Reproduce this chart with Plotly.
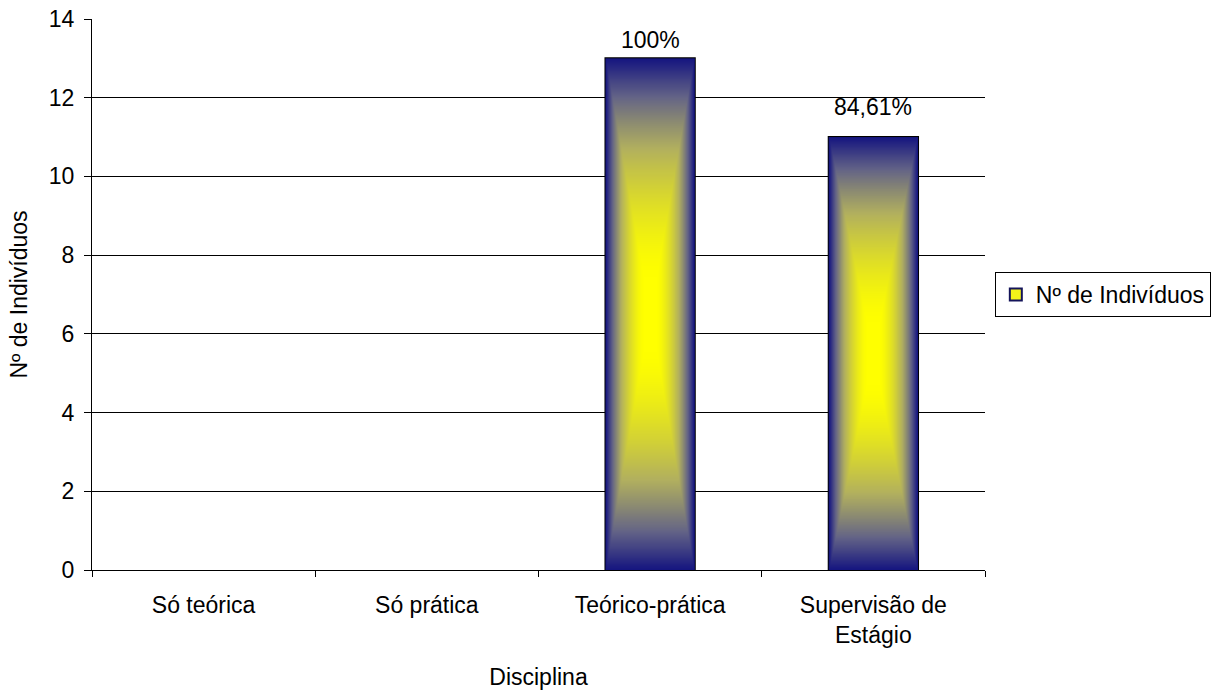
import base64
import struct
import zlib

import numpy as np
import plotly.graph_objects as go

# ---- data -------------------------------------------------------------
categories = ["Só teórica", "Só prática", "Teórico-prática", "Supervisão de<br>Estágio"]
individuos = [0, 0, 13, 11]
percent_labels = ["", "", "100%", "84,61%"]
series_name = "Nº de Indivíduos"

# ---- styling ----------------------------------------------------------
FONT = "Liberation Sans, Arial, sans-serif"
FONT_SIZE = 23
BAR_WIDTH = 0.4
BAR_EDGE = "#000000"
# colour stops of the centre-out fill, along the eased distance from the centre
GRADIENT_STOPS = [
    (0.00, (255, 255, 0)),
    (0.45, (178, 176, 95)),
    (0.75, (100, 100, 135)),
    (1.00, (22, 22, 128)),
]
label_shift = {"Teórico-prática": 3, "Supervisão de<br>Estágio": 15}


def png_data_uri(rgb):
    """Encode an HxWx3 uint8 array as a PNG data URI."""
    h, w, _ = rgb.shape
    raw = b"".join(b"\x00" + rgb[r].tobytes() for r in range(h))

    def chunk(tag, data):
        body = tag + data
        return struct.pack(">I", len(data)) + body + struct.pack(">I", zlib.crc32(body) & 0xFFFFFFFF)

    png = (b"\x89PNG\r\n\x1a\n"
           + chunk(b"IHDR", struct.pack(">IIBBBBB", w, h, 8, 2, 0, 0, 0))
           + chunk(b"IDAT", zlib.compress(raw, 9))
           + chunk(b"IEND", b""))
    return "data:image/png;base64," + base64.b64encode(png).decode()


def center_gradient(w=90, h=500):
    """Rectangular 'from centre' fill: yellow in the middle, navy at the edges."""
    u = np.abs(np.linspace(-1, 1, w))[None, :]
    v = np.abs(np.linspace(-1, 1, h))[:, None]
    t = np.maximum(u, v)
    s = np.clip((t - 0.15) / 0.85, 0, 1) ** 1.5
    pos = [p for p, _ in GRADIENT_STOPS]
    rgb = np.stack(
        [np.interp(s, pos, [c[k] for _, c in GRADIENT_STOPS]) for k in range(3)],
        axis=-1,
    )
    return np.clip(rgb, 0, 255).astype(np.uint8)


gradient_src = png_data_uri(center_gradient())

fig = go.Figure()
fig.add_trace(go.Bar(
    x=categories,
    y=individuos,
    name=series_name,
    width=BAR_WIDTH,
    marker=dict(
        color="#FFFF00",
        line=dict(color=BAR_EDGE, width=[2 if v > 0 else 0 for v in individuos]),
    ),
    showlegend=False,
    hoverinfo="x+y",
))
# legend entry for the series
fig.add_trace(go.Bar(
    x=[None], y=[None], name=series_name,
    marker=dict(color="#F2F21A", line=dict(color="#14145A", width=2)),
    showlegend=True, hoverinfo="skip",
))

# gradient fill laid over each bar, sized from the bar's own value
images = []
annotations = []
for i, (cat, val, lab) in enumerate(zip(categories, individuos, percent_labels)):
    if val > 0:
        images.append(dict(
            source=gradient_src, xref="x", yref="y",
            x=i - BAR_WIDTH / 2, y=val, sizex=BAR_WIDTH, sizey=val,
            xanchor="left", yanchor="top", sizing="stretch", layer="above",
        ))
    if lab:
        annotations.append(dict(
            x=cat, y=val, xref="x", yref="y", text=lab, showarrow=False,
            yanchor="bottom", yshift=label_shift.get(cat, 8),
            font=dict(family=FONT, size=FONT_SIZE, color="#000000"),
        ))

fig.update_layout(
    width=1215, height=693,
    margin=dict(l=92, r=230, t=19, b=123, autoexpand=False),
    paper_bgcolor="white", plot_bgcolor="white",
    font=dict(family=FONT, size=FONT_SIZE, color="#000000"),
    images=images,
    annotations=annotations,
    barmode="overlay",
    legend=dict(
        x=1.011, xanchor="left", y=0.5, yanchor="middle",
        bordercolor="#000000", borderwidth=1, bgcolor="white",
        font=dict(family=FONT, size=FONT_SIZE),
    ),
    xaxis=dict(
        title=dict(text="Disciplina", standoff=22, font=dict(size=FONT_SIZE)),
        categoryorder="array", categoryarray=categories,
        showline=True, linecolor="#000000", linewidth=1,
        ticks="outside", tickson="boundaries", ticklen=6, tickcolor="#000000",
        ticklabelstandoff=14,
        showgrid=False, zeroline=False,
        automargin=False,
    ),
    yaxis=dict(
        title=dict(text="Nº de Indivíduos", standoff=14, font=dict(size=FONT_SIZE)),
        range=[0, 14], dtick=2, tick0=0,
        showline=True, linecolor="#000000", linewidth=1,
        ticks="outside", ticklen=7, tickcolor="#000000",
        ticklabelstandoff=5,
        showgrid=True, gridcolor="#000000", gridwidth=1,
        zeroline=False, automargin=False,
    ),
    bargap=0.6,
)

fig.write_html("out.html")
